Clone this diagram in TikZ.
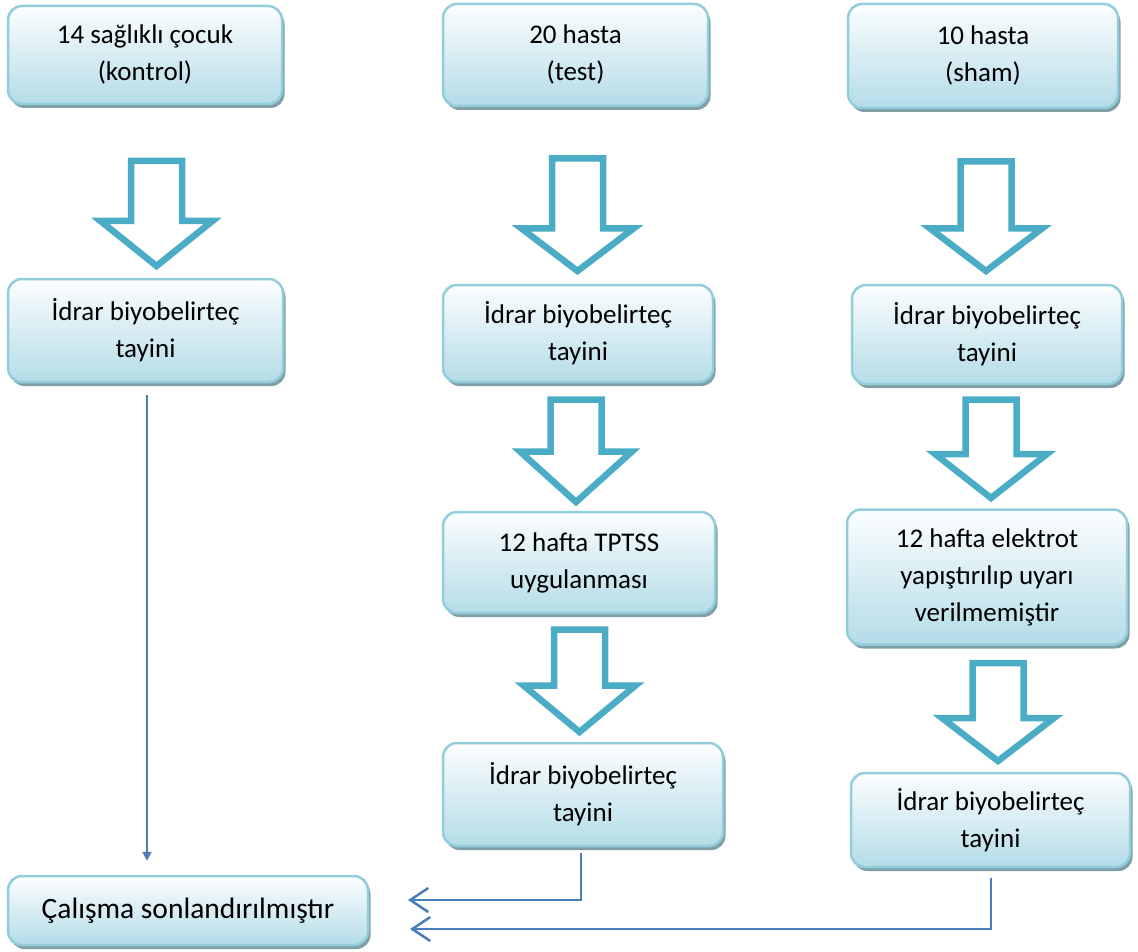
\documentclass[tikz,border=0pt]{standalone}
\usepackage{fontspec}
\setmainfont{Carlito}
\usetikzlibrary{arrows.meta,shadows}
\definecolor{boxline}{RGB}{146,205,220}
\definecolor{boxbot}{RGB}{180,220,231}
\definecolor{boxtop}{RGB}{252,254,255}
\definecolor{shadowc}{RGB}{128,158,166}
\definecolor{barrow}{RGB}{75,172,198}
\definecolor{connc}{RGB}{74,126,187}
\newcommand{\hollowarrow}[4]{%
  \draw[blockarr] (#1-25.5,#2) -- (#1+25.5,#2) -- (#1+25.5,#3) -- (#1+56,#3) -- (#1,#4) -- (#1-56,#3) -- (#1-25.5,#3) -- cycle;}
\tikzset{
  box/.style={rectangle, rounded corners=14pt, draw=boxline, line width=2.5pt,
    top color=boxtop, bottom color=boxbot,
    drop shadow={shadow xshift=2.5pt, shadow yshift=-4pt, fill=shadowc, opacity=1},
    align=center, font=\fontsize{27}{37}\selectfont, inner sep=0pt},
  blockarr/.style={draw=barrow, line width=6.5pt, fill=white, miter limit=10},
  connline/.style={draw=connc, line width=2pt},
  opentip/.style={-{Straight Barb[length=18pt,width=24pt,line width=2.5pt]}},
  filltip/.style={-{Triangle[length=9pt,width=9pt]}}
}
\begin{document}
\begin{tikzpicture}[x=1pt,y=-1pt]
\useasboundingbox (0,0) rectangle (1138,952);
% boxes
\node[box, minimum width=274pt, minimum height=98pt] (n1) at (145,55) {14 sağlıklı çocuk\\(kontrol)};
\node[box, minimum width=265pt, minimum height=102pt] (n2) at (575.5,55) {20 hasta\\(test)};
\node[box, minimum width=270pt, minimum height=104pt] (n3) at (983,56) {10 hasta\\(sham)};
\node[box, minimum width=275pt, minimum height=103pt] (n4) at (145.5,330.5) {İdrar biyobelirteç\\tayini};
\node[box, minimum width=270pt, minimum height=97pt] (n5) at (578,333.5) {İdrar biyobelirteç\\tayini};
\node[box, minimum width=270pt, minimum height=99pt] (n6) at (987,334.5) {İdrar biyobelirteç\\tayini};
\node[box, minimum width=272pt, minimum height=101pt] (n7) at (579,562.5) {12 hafta TPTSS\\uygulanması};
\node[box, minimum width=280pt, minimum height=135pt] (n8) at (987,577) {12 hafta elektrot\\yapıştırılıp uyarı\\verilmemiştir};
\node[box, minimum width=280pt, minimum height=103pt] (n9) at (583,794.5) {İdrar biyobelirteç\\tayini};
\node[box, minimum width=279pt, minimum height=94pt] (n10) at (990.5,820) {İdrar biyobelirteç\\tayini};
\node[box, minimum width=360pt, minimum height=69pt, font=\fontsize{29.5}{36}\selectfont] (n11) at (188,910.5) {Çalışma sonlandırılmıştır};
% block arrows
\hollowarrow{156.5}{161}{221}{266}
\hollowarrow{577.5}{158.5}{228.5}{271}
\hollowarrow{986}{161.5}{228.5}{271}
\hollowarrow{576}{399.5}{451.5}{502}
\hollowarrow{579.5}{629.5}{685.5}{732}
\hollowarrow{991}{399.5}{454}{498}
\hollowarrow{998}{663}{718}{761}
% connectors
\coordinate (e1) at (408,900);
\coordinate (e2) at (410,929);
\draw[connline, filltip] ([xshift=1.5pt,yshift=-12pt]n4.south) -- ([xshift=1.5pt,yshift=-862pt+876pt]n4.south |- n11.north);
\draw[connline, opentip] ([xshift=-2pt,yshift=-6pt]n9.south) |- (e1);
\draw[connline, opentip] ([yshift=-10pt]n10.south) |- (e2);
\end{tikzpicture}
\end{document}
